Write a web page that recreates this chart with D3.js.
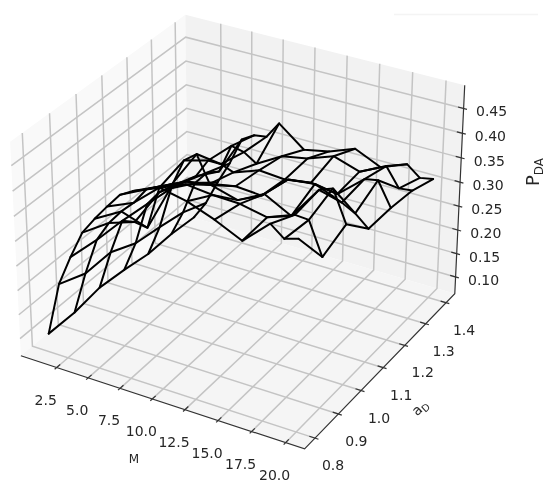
<!DOCTYPE html>
<html><head><meta charset="utf-8">
<style>html,body{margin:0;padding:0;background:#fff}svg{display:block;filter:blur(0.3px)}
text{font-family:"DejaVu Sans",sans-serif;fill:#262626}</style>
<script src="https://cdn.jsdelivr.net/npm/d3@7"></script></head><body><div id="c"></div>
<script>
const mValues=[1,2,3,4,5,6,7,8,10,12,14,16,18,19,20];
const aValues=[0.8,0.9,1.0,1.1,1.2,1.3,1.4];
const pAt08=[.102,.213,.276,.333,.368,.40,.43,.445,.466,.455,.435,.41,.458,.437,.445];
const pAt09=[.101,.191,.268,.31,.341,.366,.40,.413,.432,.426,.424,.413,.433,.431,.367];
const pAt10=[.109,.192,.265,.27,.266,.355,.37,.382,.39,.375,.402,.374,.44,.45,.388];
const pAt11=[.103,.168,.258,.29,.31,.37,.39,.337,.347,.343,.39,.396,.374,.36,.337];
const pAt12=[.094,.16,.25,.27,.29,.33,.33,.32,.339,.335,.343,.335,.38,.385,.337];
const pAt13=[.095,.15,.22,.25,.26,.321,.315,.298,.328,.338,.357,.34,.366,.328,.331];
const pAt14=[.09,.129,.182,.23,.288,.304,.308,.343,.302,.313,.333,.309,.33,.309,.314];
const pRows=[pAt08,pAt09,pAt10,pAt11,pAt12,pAt13,pAt14];
const mTicks=[2.5,5,7.5,10,12.5,15,17.5,20];
const aTicks=[0.8,0.9,1.0,1.1,1.2,1.3,1.4];
const pTicks=[0.10,0.15,0.20,0.25,0.30,0.35,0.40,0.45];
const mLim=[0.05,20.95],aLim=[0.77,1.43],pLim=[0.0725,0.4875];

const W=550,H=492,cx=242,cy=221,S=2620,dist=10;
const bx=1.1905,bz=0.8929;
const sx=d3.scaleLinear().domain(mLim).range([-bx/2,bx/2]);
const sy=d3.scaleLinear().domain(aLim).range([-bx/2,bx/2]);
const sz=d3.scaleLinear().domain(pLim).range([-bz/2,bz/2]);
const u=[0.8660254,0.5,0],v=[-0.25,0.4330127,0.8660254],w=[0.4330127,-0.75,0.5];
const dot=(a,b)=>a[0]*b[0]+a[1]*b[1]+a[2]*b[2];
const project=(m,a,p)=>{const r=[sx(m),sy(a),sz(p)];const d=dist-dot(w,r);return [cx+S*dot(u,r)/d,cy-S*dot(v,r)/d];};
const ext=(l,f=1/48)=>{const e=(l[1]-l[0])*f;return [l[0]-e,l[1]+e];};
const mE=ext(mLim),aE=ext(aLim),pE=ext(pLim);
const line=d3.line();
const svg=d3.select('#c').append('svg').attr('width',W).attr('height',H);
const poly=pts=>line(pts.map(q=>project(...q)));
// panes
svg.append('path').attr('d',poly([[mE[0],aE[0],pE[0]],[mE[0],aE[1],pE[0]],[mE[0],aE[1],pE[1]],[mE[0],aE[0],pE[1]]])+'Z').attr('fill','#f9f9f9');
svg.append('path').attr('d',poly([[mE[0],aE[1],pE[0]],[mE[1],aE[1],pE[0]],[mE[1],aE[1],pE[1]],[mE[0],aE[1],pE[1]]])+'Z').attr('fill','#f2f2f2');
svg.append('path').attr('d',poly([[mE[0],aE[0],pE[0]],[mE[1],aE[0],pE[0]],[mE[1],aE[1],pE[0]],[mE[0],aE[1],pE[0]]])+'Z').attr('fill','#f5f5f5');
// grid
const G=svg.append('g').attr('fill','none').attr('stroke','#c4c4c4').attr('stroke-width',1.5);
mTicks.forEach(t=>G.append('path').attr('d',poly([[t,aE[0],pE[0]],[t,aE[1],pE[0]],[t,aE[1],pE[1]]])));
aTicks.forEach(t=>G.append('path').attr('d',poly([[mE[1],t,pE[0]],[mE[0],t,pE[0]],[mE[0],t,pE[1]]])));
pTicks.forEach(t=>G.append('path').attr('d',poly([[mE[0],aE[0],t],[mE[0],aE[1],t],[mE[1],aE[1],t]])));
// axes
const A=svg.append('g').attr('fill','none').attr('stroke','#333').attr('stroke-width',1.2);
A.append('path').attr('d',poly([[mE[0],aE[0],pE[0]],[mE[1],aE[0],pE[0]],[mE[1],aE[1],pE[0]],[mE[1],aE[1],pE[1]]]));
const mD=(mLim[1]-mLim[0]),aD=(aLim[1]-aLim[0]);
mTicks.forEach(t=>A.append('path').attr('d',poly([[t,aE[0]-aD*.012,pE[0]],[t,aE[0]+aD*.02,pE[0]]])));
aTicks.forEach(t=>A.append('path').attr('d',poly([[mE[1]+mD*.012,t,pE[0]],[mE[1]-mD*.02,t,pE[0]]])));
pTicks.forEach(t=>A.append('path').attr('d',poly([[mE[1]+mD*.012,aE[1],t],[mE[1]-mD*.02,aE[1],t]])));
// tick labels
const T=svg.append('g').attr('font-size',14).attr('text-anchor','middle');
const lbl=(x,y,s)=>T.append('text').attr('x',x).attr('y',y).attr('dy','0.36em').text(s);
mTicks.forEach(t=>{const q=project(t,aE[0],pE[0]);lbl(q[0]-11,q[1]+32,t.toFixed(1));});
aTicks.forEach(t=>{const q=project(mE[1],t,pE[0]);lbl(q[0]+18,q[1]+27,t.toFixed(1));});
pTicks.forEach(t=>{const q=project(mE[1],aE[1],t);lbl(q[0]+28,q[1]+3,t.toFixed(2));});
// axis labels
svg.append('text').attr('x',134).attr('y',459).attr('dy','0.36em').attr('text-anchor','middle').attr('font-size',12).text('M');
const aL=svg.append('text').attr('transform','translate(423,411) rotate(-42)').attr('text-anchor','middle').attr('font-size',14);
aL.append('tspan').text('a');aL.append('tspan').attr('font-size',10).attr('dy',3).text('D');
const pL=svg.append('text').attr('transform','translate(533,172) rotate(-90)').attr('text-anchor','middle').attr('dy','0.36em').attr('font-size',18);
pL.append('tspan').text('P');pL.append('tspan').attr('font-size',12).attr('dy',4).text('DA');
// wireframe
const wire=svg.append('g').attr('fill','none').attr('stroke','#000').attr('stroke-width',2).attr('stroke-linejoin','round').attr('stroke-linecap','round');
pRows.forEach((row,j)=>wire.append('path').attr('d',poly(row.map((p,i)=>[mValues[i],aValues[j],p]))));
mValues.forEach((m,i)=>wire.append('path').attr('d',poly(aValues.map((a,j)=>[m,a,pRows[j][i]]))));
svg.append('line').attr('x1',394).attr('x2',538).attr('y1',14.5).attr('y2',14.5).attr('stroke','#f4f4f4').attr('stroke-width',1.5);
</script></body></html>
